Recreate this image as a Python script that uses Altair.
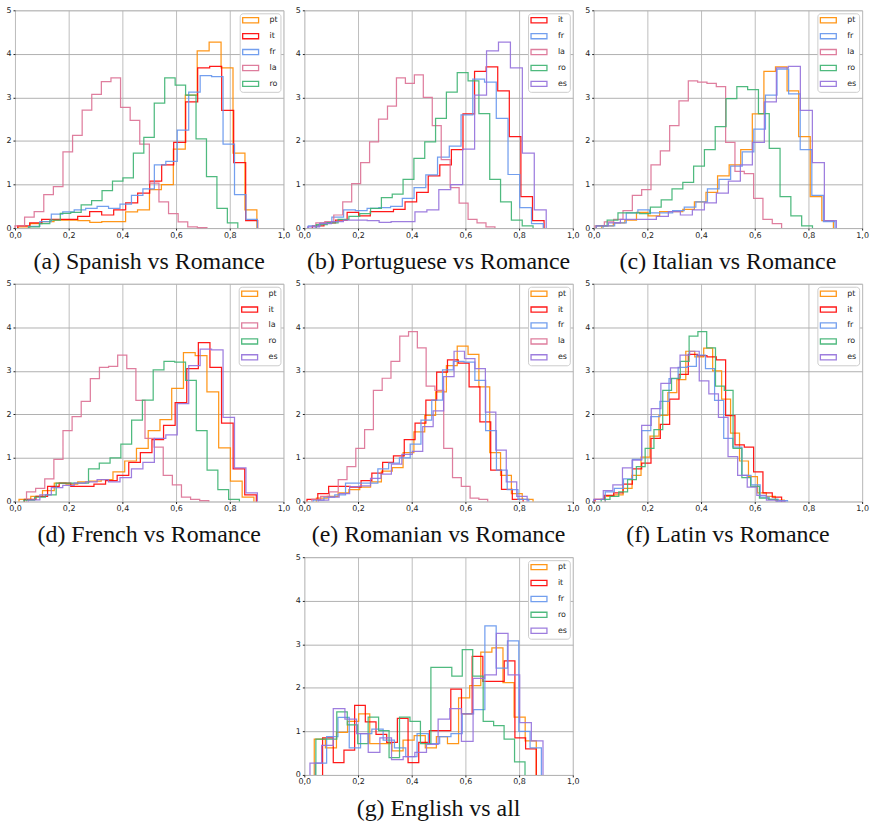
import altair as alt
import pandas as pd

# ---- pairwise similarity histograms (20 bins each): heights, (lo, hi) data range ----
ES_PT = [0.03, 0.10, 0.15, 0.18, 0.18, 0.17, 0.13, 0.15, 0.15, 0.37, 0.42, 0.88, 1.00, 1.81, 3.05, 4.07, 4.27, 3.68, 1.72, 0.42]
ES_PT_R = (0.012, 0.901)
ES_IT = [0.05, 0.12, 0.20, 0.20, 0.20, 0.27, 0.38, 0.30, 0.42, 0.58, 0.80, 1.08, 1.45, 1.97, 2.90, 3.68, 3.71, 2.70, 1.50, 0.17]
ES_IT_R = (0.010, 0.904)
ES_FR = [0.04, 0.15, 0.32, 0.37, 0.42, 0.45, 0.50, 0.45, 0.55, 0.75, 0.90, 1.45, 1.53, 2.25, 3.12, 3.50, 3.48, 1.93, 0.77, 0.20]
ES_FR_R = (0.050, 0.903)
ES_LA = [0.05, 0.25, 0.38, 0.77, 0.95, 1.75, 2.13, 2.71, 3.07, 3.36, 3.45, 2.77, 2.47, 1.93, 1.03, 0.60, 0.33, 0.14, 0.03, 0.01]
ES_LA_R = (0.000, 0.715)
ES_RO = [0.03, 0.10, 0.18, 0.34, 0.36, 0.53, 0.63, 0.86, 1.08, 1.15, 1.72, 2.08, 2.87, 3.45, 3.28, 3.05, 2.05, 1.18, 0.45, 0.12]
ES_RO_R = (0.052, 0.830)
PT_IT = [0.05, 0.12, 0.18, 0.36, 0.28, 0.38, 0.38, 0.43, 0.60, 0.82, 1.20, 1.45, 1.80, 2.62, 3.60, 3.70, 3.15, 2.10, 0.72, 0.17]
PT_IT_R = (0.030, 0.893)
PT_FR = [0.05, 0.12, 0.25, 0.42, 0.40, 0.45, 0.47, 0.50, 0.68, 0.93, 1.22, 1.63, 1.88, 2.60, 3.42, 3.35, 2.52, 1.23, 0.47, 0.10]
PT_FR_R = (0.015, 0.890)
PT_LA = [0.12, 0.15, 0.30, 0.60, 1.02, 1.50, 1.98, 2.50, 2.80, 3.45, 3.32, 3.52, 3.00, 2.35, 1.57, 0.93, 0.57, 0.20, 0.12, 0.03]
PT_LA_R = (0.043, 0.710)
PT_RO = [0.08, 0.12, 0.20, 0.27, 0.33, 0.45, 0.70, 0.78, 1.12, 1.60, 1.98, 2.52, 3.12, 3.57, 3.38, 2.63, 1.12, 0.60, 0.18, 0.05]
PT_RO_R = (0.045, 0.852)
IT_FR = [0.05, 0.12, 0.35, 0.42, 0.35, 0.35, 0.40, 0.48, 0.60, 0.90, 1.12, 1.42, 1.75, 2.27, 3.05, 3.65, 3.08, 1.80, 0.75, 0.15]
IT_FR_R = (0.035, 0.899)
IT_LA = [0.05, 0.14, 0.20, 0.40, 0.75, 0.88, 1.45, 1.77, 2.35, 2.92, 3.38, 3.35, 3.32, 3.25, 1.97, 1.30, 1.25, 0.68, 0.20, 0.10]
IT_LA_R = (0.005, 0.700)
IT_RO = [0.05, 0.18, 0.35, 0.35, 0.33, 0.48, 0.65, 0.90, 1.05, 1.42, 1.80, 2.33, 2.97, 3.25, 3.18, 2.63, 1.83, 0.72, 0.28, 0.05]
IT_RO_R = (0.010, 0.815)
FR_LA = [0.22, 0.30, 0.52, 0.97, 1.63, 1.95, 2.30, 2.82, 3.08, 3.10, 3.36, 3.05, 2.32, 1.45, 1.25, 0.60, 0.38, 0.10, 0.05, 0.02]
FR_LA_R = (0.043, 0.722)
FR_RO = [0.03, 0.10, 0.15, 0.42, 0.42, 0.42, 0.75, 0.88, 1.00, 1.32, 1.87, 2.33, 3.02, 3.22, 3.20, 2.78, 1.63, 0.72, 0.27, 0.05]
FR_RO_R = (0.033, 0.836)
LA_RO = [0.05, 0.12, 0.22, 0.50, 0.80, 1.22, 1.65, 2.55, 2.83, 3.22, 3.80, 3.90, 3.53, 2.65, 2.55, 1.22, 0.55, 0.35, 0.08, 0.05]
LA_RO_R = (0.028, 0.683)
EN_PT = [0.82, 0.62, 0.98, 1.23, 1.40, 0.72, 0.72, 0.55, 0.80, 0.90, 0.62, 0.88, 0.72, 1.77, 2.05, 2.82, 2.92, 2.12, 1.33, 0.78]
EN_PT_R = (0.037, 0.864)
EN_IT = [0.85, 0.28, 0.57, 1.60, 1.22, 0.93, 0.75, 1.30, 0.28, 0.75, 1.02, 1.02, 1.97, 1.40, 2.72, 2.15, 2.15, 2.62, 0.85, 0.60]
EN_IT_R = (0.068, 0.864)
EN_FR = [0.27, 0.88, 1.32, 0.62, 0.95, 1.05, 0.80, 0.62, 0.42, 0.95, 0.72, 0.88, 0.95, 1.40, 1.50, 3.42, 2.45, 3.08, 1.00, 0.62]
EN_FR_R = (0.041, 0.883)
EN_RO = [0.82, 0.82, 1.45, 1.15, 0.72, 1.33, 1.02, 0.40, 1.33, 1.23, 0.72, 2.47, 2.47, 2.27, 2.88, 2.27, 1.23, 1.13, 0.82, 0.30]
EN_RO_R = (0.043, 0.822)
EN_ES = [0.27, 0.68, 1.52, 1.28, 0.95, 0.52, 0.85, 0.35, 0.42, 0.52, 0.70, 1.28, 1.52, 0.77, 2.22, 2.30, 3.25, 2.30, 1.20, 0.78]
EN_ES_R = (0.021, 0.889)

X_TICKS = [0.0, 0.2, 0.4, 0.6, 0.8, 1.0]
Y_TICKS = [0, 1, 2, 3, 4, 5]

PANELS = [
    ("(a) Spanish vs Romance", [("pt", ES_PT, ES_PT_R), ("it", ES_IT, ES_IT_R), ("fr", ES_FR, ES_FR_R), ("la", ES_LA, ES_LA_R), ("ro", ES_RO, ES_RO_R)]),
    ("(b) Portuguese vs Romance", [("it", PT_IT, PT_IT_R), ("fr", PT_FR, PT_FR_R), ("la", PT_LA, PT_LA_R), ("ro", PT_RO, PT_RO_R), ("es", ES_PT, ES_PT_R)]),
    ("(c) Italian vs Romance", [("pt", PT_IT, PT_IT_R), ("fr", IT_FR, IT_FR_R), ("la", IT_LA, IT_LA_R), ("ro", IT_RO, IT_RO_R), ("es", ES_IT, ES_IT_R)]),
    ("(d) French vs Romance", [("pt", PT_FR, PT_FR_R), ("it", IT_FR, IT_FR_R), ("la", FR_LA, FR_LA_R), ("ro", FR_RO, FR_RO_R), ("es", ES_FR, ES_FR_R)]),
    ("(e) Romanian vs Romance", [("pt", PT_RO, PT_RO_R), ("it", IT_RO, IT_RO_R), ("fr", FR_RO, FR_RO_R), ("la", LA_RO, LA_RO_R), ("es", ES_RO, ES_RO_R)]),
    ("(f) Latin vs Romance", [("pt", PT_LA, PT_LA_R), ("it", IT_LA, IT_LA_R), ("fr", FR_LA, FR_LA_R), ("ro", LA_RO, LA_RO_R), ("es", ES_LA, ES_LA_R)]),
    ("(g) English vs all", [("pt", EN_PT, EN_PT_R), ("it", EN_IT, EN_IT_R), ("fr", EN_FR, EN_FR_R), ("ro", EN_RO, EN_RO_R), ("es", EN_ES, EN_ES_R)]),
]

COLORS = {"pt": "#ff8c00", "it": "#ff0000", "fr": "#6495ed", "la": "#db7093", "ro": "#3cb371", "es": "#9370db"}

PW, PH = 270, 219


def step_table(entries):
    rows = []
    for lang, heights, (lo, hi) in entries:
        n = len(heights)
        w = (hi - lo) / n
        pts = [(lo, 0.0)]
        for i, h in enumerate(heights):
            pts.append((lo + i * w, h))
            pts.append((lo + (i + 1) * w, h))
        pts.append((hi, 0.0))
        for k, (x, y) in enumerate(pts):
            rows.append({"lang": lang, "x": x, "y": y, "k": k})
    return pd.DataFrame(rows)


def panel(title, entries):
    langs = [e[0] for e in entries]
    df = step_table(entries)
    return alt.Chart(
        df,
        title=alt.Title(title, orient="bottom", anchor="middle", font="Liberation Serif",
                        fontSize=24, fontWeight="normal", color="#111111", offset=11),
    ).mark_line(strokeWidth=1.25, opacity=0.9).encode(
        x=alt.X("x:Q", title=None,
                scale=alt.Scale(domain=[0, 1], nice=False, zero=False),
                axis=alt.Axis(values=X_TICKS, labelExpr="replace(format(datum.value, '.1f'), '.', ',')",
                              labelFlush=False, labelFont="DejaVu Sans", labelFontSize=8,
                              labelColor="#222222", labelPadding=1, tickSize=2, tickColor="#222222",
                              domain=False, grid=True, gridColor="#bdbdbd", gridWidth=1)),
        y=alt.Y("y:Q", title=None,
                scale=alt.Scale(domain=[0, 5], nice=False),
                axis=alt.Axis(values=Y_TICKS, format="d", labelFont="DejaVu Sans", labelFontSize=8,
                              labelColor="#222222", labelPadding=2, tickSize=2, tickColor="#222222",
                              domain=False, grid=True, gridColor="#b0b0b0", gridWidth=1)),
        color=alt.Color("lang:N", sort=langs,
                        scale=alt.Scale(domain=langs, range=[COLORS[l] for l in langs]),
                        legend=alt.Legend(title=None, orient="top-right", offset=3,
                                          fillColor="white", strokeColor="#cccccc", cornerRadius=3,
                                          padding=2, rowPadding=4,
                                          symbolType="M-2,-0.65H2V0.65H-2Z", symbolSize=64,
                                          symbolStrokeWidth=1.3, symbolOffset=4,
                                          labelFont="DejaVu Sans", labelFontSize=8,
                                          labelColor="#222222", labelOffset=14)),
        order="k:Q",
        detail="lang:N",
    ).properties(width=PW, height=PH)


charts = [panel(t, e) for t, e in PANELS]

row1 = alt.hconcat(charts[0], charts[1], charts[2], spacing=4).resolve_scale(color="independent")
row2 = alt.hconcat(charts[3], charts[4], charts[5], spacing=4).resolve_scale(color="independent")
row3 = alt.hconcat(charts[6]).resolve_scale(color="independent")

chart = alt.vconcat(row1, row2, row3, spacing=4, center=True).resolve_scale(
    color="independent"
).configure_view(stroke="#222222", strokeWidth=1).configure(
    background="white", padding={"left": 5, "top": 3, "right": 5, "bottom": 5}
)

chart.save("out.html", embed_options={"renderer": "svg", "actions": False})
